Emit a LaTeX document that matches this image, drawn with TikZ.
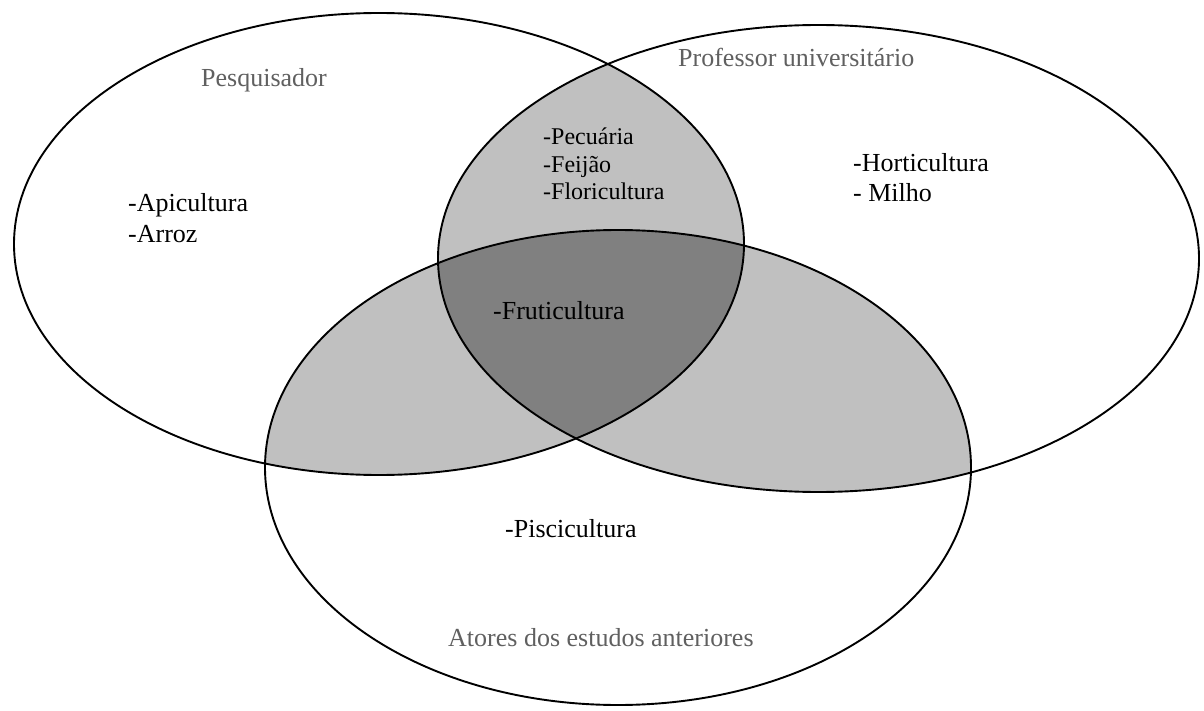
\documentclass[tikz,border=0pt]{standalone}
\usepackage{fontspec}
\setmainfont{Liberation Serif}
\definecolor{lightfill}{HTML}{C0C0C0}
\definecolor{darkfill}{HTML}{808080}
\definecolor{labelgray}{HTML}{606060}
\begin{document}
\begin{tikzpicture}[x=1pt,y=-1pt,
  setline/.style={draw=black,line width=1.9pt},
  item/.style={anchor=base west,inner sep=0pt,text=black,font=\fontsize{26}{30}\selectfont},
  smallitem/.style={anchor=base west,inner sep=0pt,text=black,font=\fontsize{24}{27}\selectfont},
  setlabel/.style={anchor=base west,inner sep=0pt,text=labelgray,font=\fontsize{26}{30}\selectfont}]
\useasboundingbox (0,0) rectangle (1204,711);
\fill[white] (0,0) rectangle (1204,711);
\def\setA{(379,244) ellipse [x radius=365pt, y radius=231pt]}
\def\setB{(818.5,258.5) ellipse [x radius=380.5pt, y radius=233.5pt]}
\def\setC{(618,467.5) ellipse [x radius=353pt, y radius=237.5pt]}
% pairwise overlaps
\begin{scope}\clip \setA; \fill[lightfill] \setB; \end{scope}
\begin{scope}\clip \setA; \fill[lightfill] \setC; \end{scope}
\begin{scope}\clip \setB; \fill[lightfill] \setC; \end{scope}
% triple overlap
\begin{scope}\clip \setA; \clip \setB; \fill[darkfill] \setC; \end{scope}
% outlines
\draw[setline] \setA;
\draw[setline] \setB;
\draw[setline] \setC;
% labels
\node[setlabel] (lblA) at (201,87) {Pesquisador};
\node[setlabel] (lblB) at (678,67) {Professor universitário};
\node[setlabel] (lblC) at (448,646) {Atores dos estudos anteriores};
\node[item] (a1) at (128,212) {-Apicultura};
\node[item] (a2) at (128,243) {-Arroz};
\node[item] (b1) at (853,172) {-Horticultura};
\node[item] (b2) at (853,202) {- Milho};
\node[smallitem] (ab1) at (543,145) {-Pecuária};
\node[smallitem] (ab2) at (543,173) {-Feijão};
\node[smallitem] (ab3) at (543,200) {-Floricultura};
\node[item] (abc) at (493,319) {-Fruticultura};
\node[item] (c1) at (505,537) {-Piscicultura};
\end{tikzpicture}
\end{document}
